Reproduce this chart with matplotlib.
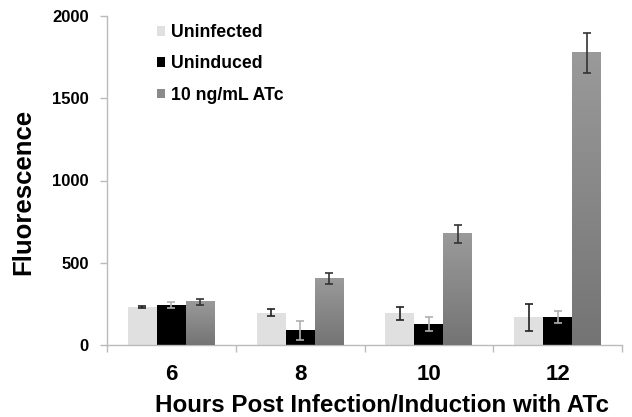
import matplotlib
matplotlib.use("Agg")
import matplotlib.pyplot as plt
import numpy as np
from matplotlib.patches import Patch
from matplotlib.colors import LinearSegmentedColormap

categories = ["6", "8", "10", "12"]
series_names = ["Uninfected", "Uninduced", "10 ng/mL ATc"]
uninfected = [232, 196, 192, 168]
uninfected_err = [8, 21, 38, 82]
uninduced = [242, 89, 127, 168]
uninduced_err = [17, 58, 44, 37]
atc = [262, 404, 675, 1776]
atc_err = [17, 32, 55, 122]

plt.rcParams['font.family'] = ['Liberation Sans', 'DejaVu Sans']
plt.rcParams['font.weight'] = 'bold'

fig = plt.figure(figsize=(6.32, 4.17), dpi=100)
ax = fig.add_axes([107/632, 1-345/417, (622-107)/632, (345-16)/417])

x = np.arange(len(categories))
w = 0.225
colors = ["#e0e0e0", "#000000", "#8a8a8a"]
ecolors = ["#222222", "#b0b0b0", "#333333"]
data = [(uninfected, uninfected_err), (uninduced, uninduced_err), (atc, atc_err)]
bars_all = []
for i, (vals, errs) in enumerate(data):
    bars = ax.bar(x + (i-1)*w, vals, w, color=colors[i], edgecolor='none', zorder=2)
    bars_all.append(bars)
    ax.errorbar(x + (i-1)*w, vals, yerr=errs, fmt='none', ecolor=ecolors[i],
                elinewidth=1.2, capsize=3, capthick=1.2, zorder=4)

# gradient on ATc bars (lighter at top, darker at bottom)
grad = np.linspace(0, 1, 256).reshape(-1, 1)
cmap = LinearSegmentedColormap.from_list("g", ["#9a9a9a", "#747474"])
for p in bars_all[2]:
    x0, y0 = p.get_x(), p.get_y()
    ax.imshow(grad, cmap=cmap, aspect='auto',
              extent=(x0, x0 + p.get_width(), y0, y0 + p.get_height()),
              zorder=3, interpolation='bicubic')
    p.set_alpha(0)

ax.set_xlim(-0.5, 3.5)
ax.set_ylim(0, 2000)
ax.set_yticks([0, 500, 1000, 1500, 2000])
ax.set_yticklabels(["0", "500", "1000", "1500", "2000"], fontsize=12, fontweight='bold')
ax.set_xticks(x)
ax.set_xticklabels(categories, fontsize=16, fontweight='bold')
ax.tick_params(axis='x', length=0, pad=14)
ax.set_xticks(np.arange(-0.5, 3.6, 1), minor=True)
ax.tick_params(axis='x', which='minor', length=5, color='#bbbbbb', width=1)
ax.tick_params(axis='y', length=5, color='#bbbbbb', width=1, pad=8)
for s in ['top', 'right']:
    ax.spines[s].set_visible(False)
for s in ['left', 'bottom']:
    ax.spines[s].set_color('#bbbbbb')
    ax.spines[s].set_linewidth(1)

ax.set_xlabel("Hours Post Infection/Induction with ATc", fontsize=17.4, fontweight='bold')
ax.xaxis.set_label_coords((382-107)/515, -(394-345)/329)
ax.set_ylabel("Fluorescence", fontsize=18.5, fontweight='bold')
ax.yaxis.set_label_coords((35-107)/515, (345-191.5)/329)

handles = [Patch(facecolor=c, edgecolor='none') for c in colors]
leg = ax.legend(handles, series_names, loc='upper left',
                bbox_to_anchor=(153/632 - 107/632, 1.0 + 4/329),
                frameon=False, prop={'size': 12.7, 'weight': 'bold'},
                handlelength=0.45, handleheight=0.45,
                handletextpad=0.35, labelspacing=0.8, borderaxespad=0.3)

fig.savefig("out.png", dpi=100)
